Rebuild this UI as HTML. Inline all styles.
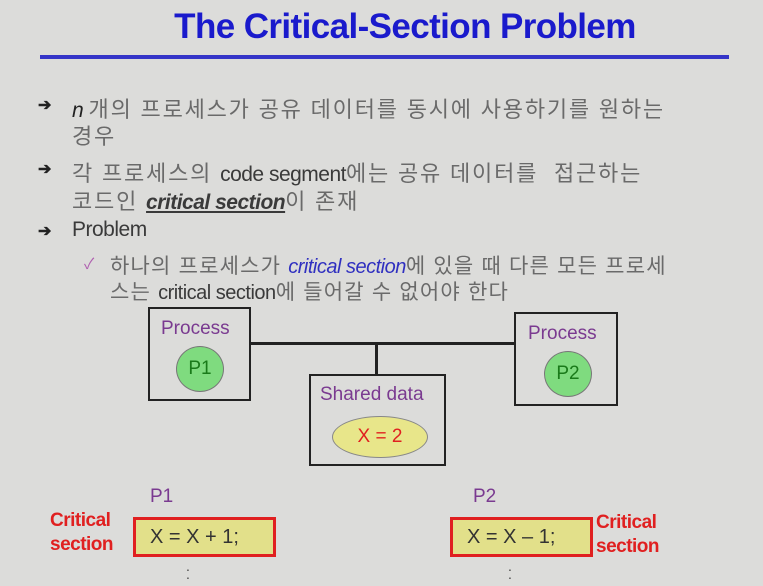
<!DOCTYPE html>
<html><head><meta charset="utf-8"><style>
body{margin:0;width:763px;height:586px;background:#dcdcda;position:relative;overflow:hidden;font-family:"Liberation Sans","Noto Sans CJK KR",sans-serif}
.a{position:absolute;white-space:nowrap}
.t{font-size:21px;color:#3a3a3a;letter-spacing:-0.5px}
.k{color:#6a6a6a;letter-spacing:1.8px;font-size:22px}
.s .k{letter-spacing:1.2px;font-size:21px}
.box{position:absolute;border:2px solid #222;box-sizing:border-box}
.pr{font-size:19px;color:#7a3a90}
.circ{position:absolute;background:#7fdb7f;border:1px solid #777;border-radius:50%;color:#1a7a1a;font-size:19px;display:flex;align-items:center;justify-content:center}
.cs{position:absolute;background:#e2e08a;border:3px solid #e02020;box-sizing:border-box;font-size:20px;color:#333;padding-left:14px;line-height:34px}
.red{color:#e02020;font-weight:bold;font-size:19px;line-height:24px;letter-spacing:-0.5px}
.bul{position:absolute;font-size:16px;color:#222;font-weight:bold}
</style></head><body>
<div class="a" style="left:0;width:810px;text-align:center;top:7px;font-size:35px;font-weight:bold;color:#1a1acc;letter-spacing:-0.6px">The Critical-Section Problem</div>
<div class="a" style="left:40px;top:55px;width:689px;height:4px;background:#3535c8"></div>

<div class="bul" style="left:38px;top:95px">➔</div>
<div class="a t" style="left:72px;top:92px"><i style="color:#222">n</i> <span class="k">개의 프로세스가 공유 데이터를 동시에 사용하기를 원하는</span></div>
<div class="a t k" style="left:72px;top:119px">경우</div>
<div class="bul" style="left:38px;top:159px">➔</div>
<div class="a t" style="left:72px;top:156px"><span class="k">각 프로세스의 </span>code segment<span class="k">에는 공유 데이터를 &nbsp;접근하는</span></div>
<div class="a t" style="left:72px;top:184px"><span class="k">코드인 </span><b><i><u>critical section</u></i></b><span class="k">이 존재</span></div>
<div class="bul" style="left:38px;top:221px">➔</div>
<div class="a t" style="left:72px;top:218px">Problem</div>
<div class="a" style="left:84px;top:253px;color:#b060b0;font-size:15px">✓</div>
<div class="a t s" style="left:110px;top:250px;font-size:20px"><span class="k">하나의 프로세스가 </span><i style="color:#3030c0">critical section</i><span class="k">에 있을 때 다른 모든 프로세</span></div>
<div class="a t s" style="left:110px;top:276px;font-size:20px"><span class="k">스는 </span>critical section<span class="k">에 들어갈 수 없어야 한다</span></div>

<div class="a" style="left:250px;top:342px;width:265px;height:3px;background:#222"></div>
<div class="a" style="left:375px;top:342px;width:3px;height:34px;background:#222"></div>
<div class="box" style="left:148px;top:307px;width:103px;height:94px"></div>
<div class="a pr" style="left:161px;top:318px">Process</div>
<div class="circ" style="left:176px;top:346px;width:46px;height:44px">P1</div>
<div class="box" style="left:514px;top:312px;width:104px;height:94px"></div>
<div class="a pr" style="left:528px;top:323px">Process</div>
<div class="circ" style="left:544px;top:351px;width:46px;height:44px">P2</div>
<div class="box" style="left:309px;top:374px;width:137px;height:92px"></div>
<div class="a pr" style="left:320px;top:384px">Shared data</div>
<div class="a" style="left:332px;top:416px;width:94px;height:40px;border-radius:50%;background:#e8e68a;border:1px solid #888;color:#e02020;font-size:19px;display:flex;align-items:center;justify-content:center">X = 2</div>

<div class="a pr" style="left:150px;top:486px">P1</div>
<div class="a red" style="left:50px;top:509px">Critical<br>section</div>
<div class="cs" style="left:133px;top:517px;width:143px;height:40px">X = X + 1;</div>
<div class="a" style="left:186px;top:562px;color:#444;font-size:14px;line-height:8px">.<br>.</div>

<div class="a pr" style="left:473px;top:486px">P2</div>
<div class="cs" style="left:450px;top:517px;width:143px;height:40px">X = X – 1;</div>
<div class="a red" style="left:596px;top:511px">Critical<br>section</div>
<div class="a" style="left:508px;top:562px;color:#444;font-size:14px;line-height:8px">.<br>.</div>
</body></html>
